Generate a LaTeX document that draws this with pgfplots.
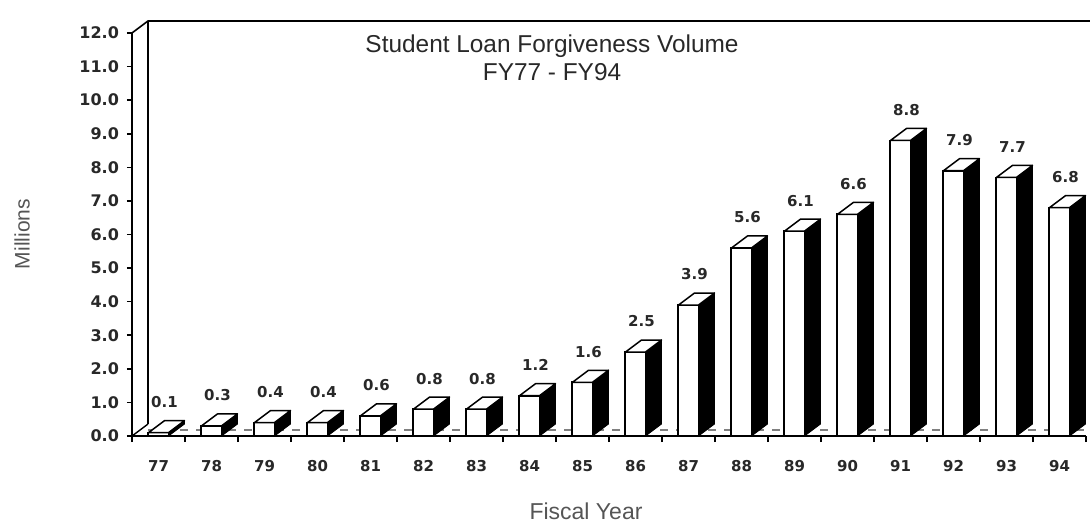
\documentclass[border=0pt]{standalone}
\usepackage{pgfplots}
\pgfplotsset{compat=1.18}
\usepackage{pgfplotstable}
\usepackage{fontspec}
\setmainfont{Liberation Sans}
\newfontfamily\dvb{DejaVu Sans}
\pgfdeclareplotmark{nothing}{}
\definecolor{txtgray}{RGB}{40,40,40}
\definecolor{lblgray}{RGB}{85,85,85}

\pgfplotstableread{
x yr val
0 77 0.1
1 78 0.3
2 79 0.4
3 80 0.4
4 81 0.6
5 82 0.8
6 83 0.8
7 84 1.2
8 85 1.6
9 86 2.5
10 87 3.9
11 88 5.6
12 89 6.1
13 90 6.6
14 91 8.8
15 92 7.9
16 93 7.7
17 94 6.8
}\loanData

\begin{document}
\begin{tikzpicture}
\path[use as bounding box] (-66pt,-44pt) rectangle (479pt,218pt);
\begin{axis}[
  at={(0pt,0pt)}, anchor=south west,
  scale only axis, width=477pt, height=201.5pt,
  xmin=-0.5, xmax=17.5, ymin=0, ymax=12,
  axis x line=bottom, axis y line=left,
  axis line style={-, black, line width=0.9pt},
  clip=false,
  xtick={0,...,17},
  xticklabels from table={\loanData}{yr},
  major x tick style={draw=none},
  minor xtick={-0.5,0.5,...,17.5},
  minor tick length=3pt,
  ytick={0,1,...,12},
  major tick length=2.5pt,
  tick align=outside,
  tick style={black, line width=0.8pt},
  scaled y ticks=false,
  y tick label style={font=\dvb\bfseries\fontsize{8}{9}\selectfont, text=txtgray,
    /pgf/number format/fixed, /pgf/number format/fixed zerofill,
    /pgf/number format/precision=1, /pgf/number format/assume math mode=true, xshift=-0.5pt},
  x tick label style={font=\dvb\bfseries\fontsize{7.5}{8}\selectfont, text=txtgray, yshift=-6pt},
]
% back wall and floor edge
\draw[black, line width=0.8pt] (axis cs:-0.5,12) -- ([shift={(8pt,6pt)}]axis cs:-0.5,12) -- ([shift={(8pt,6pt)}]axis cs:17.5,12);
\draw[black, line width=0.8pt] ([shift={(8pt,6pt)}]axis cs:-0.5,12) -- ([shift={(8pt,6pt)}]axis cs:-0.5,0);
\draw[black, line width=0.7pt] (axis cs:-0.5,0) -- ([shift={(8pt,6pt)}]axis cs:-0.5,0);
\draw[gray, line width=0.6pt, dash pattern=on 4pt off 4pt] ([shift={(8pt,3pt)}]axis cs:-0.5,0) -- ([shift={(8pt,3pt)}]axis cs:17.5,0);
% 3D side and top faces
\addplot[scatter, only marks, mark=nothing,
  visualization depends on={\thisrow{val} \as \barval},
  scatter/@pre marker code/.code={%
    \pgfmathsetmacro\barh{16.7917*\barval}%
    \fill[black] (5pt,0pt) -- (13pt,6pt) -- (13pt,{(6-\barh)*1pt}) -- (5pt,{-\barh*1pt}) -- cycle;
    \filldraw[fill=white, draw=black, line width=0.75pt, line join=round] (-5pt,0pt) -- (3pt,6pt) -- (13pt,6pt) -- (5pt,0pt) -- cycle;
    \draw[black, line width=0.75pt] (13pt,6pt) -- (13pt,{(6-\barh)*1pt});
  },
  scatter/@post marker code/.code={},
] table[x=x, y=val] {\loanData};
% front faces
\addplot[ybar, bar width=10.5pt, fill=white, draw=black, line width=0.85pt,
  point meta=y,
  nodes near coords={\pgfmathprintnumber[fixed,fixed zerofill,precision=1,assume math mode=true]{\pgfplotspointmeta}},
  nodes near coords style={font=\dvb\bfseries\fontsize{7.5}{8}\selectfont, text=txtgray, anchor=south, inner sep=0pt, xshift=3pt, yshift=12pt},
] table[x=x, y=val] {\loanData};
\end{axis}
\node[font=\fontsize{12.2}{14}\selectfont, text=txtgray] at (210pt,195pt) {Student Loan Forgiveness Volume};
\node[font=\fontsize{12.2}{14}\selectfont, text=txtgray] at (210pt,182pt) {FY77 - FY94};
\node[font=\fontsize{11.5}{13}\selectfont, text=lblgray] at (227pt,-37.5pt) {Fiscal Year};
\node[font=\fontsize{10.5}{12}\selectfont, text=lblgray, rotate=90] at (-55pt,101pt) {Millions};
\end{tikzpicture}
\end{document}
